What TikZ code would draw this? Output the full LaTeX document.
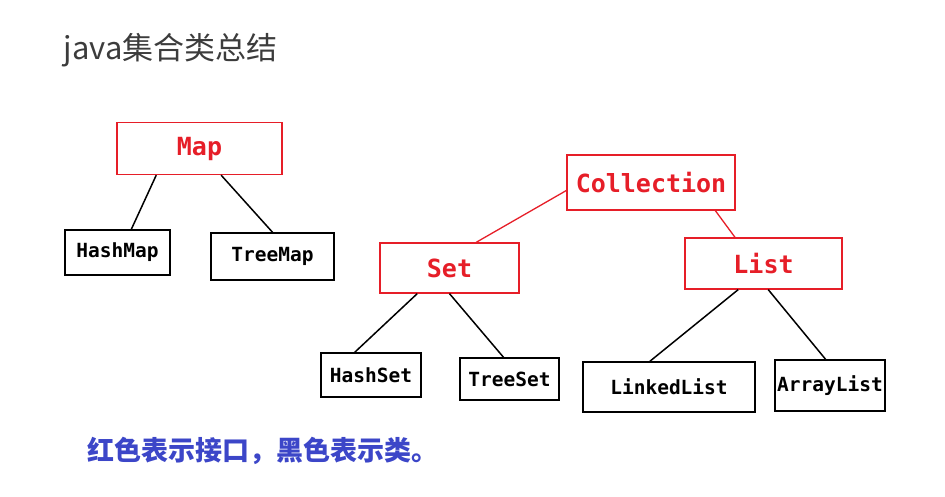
\documentclass[tikz,border=0pt]{standalone}
\usepackage{fontspec}
\setmonofont{DejaVu Sans Mono}
\newfontfamily\cjk{Noto Sans CJK SC}
\usetikzlibrary{calc}
\definecolor{cred}{RGB}{230,30,40}
\definecolor{cblue}{RGB}{60,70,200}
\definecolor{cgray}{RGB}{60,60,60}

\tikzset{
  iface/.style={draw=cred,line width=1.3pt,text=cred,font=\ttfamily\bfseries\fontsize{25}{25}\selectfont,
    minimum height=52pt,inner sep=0pt},
  klass/.style={draw=black,line width=1.5pt,font=\ttfamily\bfseries\fontsize{19.5}{19.5}\selectfont,
    minimum height=46pt,inner sep=0pt},
  redline/.style={draw=cred,line width=1.3pt},
  blackline/.style={draw=black,line width=1.5pt}
}

\begin{document}
\begin{tikzpicture}[x=1pt,y=-1pt]
  \useasboundingbox (0,0) rectangle (945,497);

  \node[anchor=west,text=cgray,font=\cjk\fontsize{31}{31}\selectfont] (title) at (60,50) {java集合类总结};

  % interfaces
  \node[iface,minimum width=165pt] (map) at (199.5,148.5) {Map};
  \node[iface,minimum width=168pt,minimum height=55pt] (coll) at (651,182.5) {Collection};
  \node[iface,minimum width=139pt,minimum height=50pt] (set) at (449.5,268) {Set};
  \node[iface,minimum width=157pt,minimum height=51pt] (list) at (763.5,263.5) {List};

  % classes
  \node[klass,minimum width=105pt,minimum height=45pt] (hashmap) at (117.5,252.5) {HashMap};
  \node[klass,minimum width=123pt,minimum height=47pt] (treemap) at (272.5,256.5) {TreeMap};
  \node[klass,minimum width=100pt,minimum height=44pt] (hashset) at (371,375) {HashSet};
  \node[klass,minimum width=99pt,minimum height=42pt] (treeset) at (509.5,379) {TreeSet};
  \node[klass,minimum width=172pt,minimum height=50pt] (linked) at (669,387) {LinkedList};
  \node[klass,minimum width=110pt,minimum height=51pt] (array) at (830,385.5) {ArrayList};

  % connectors
  \draw[blackline] ($(map.south west)!0.24!(map.south east)$) -- ($(hashmap.north west)!0.63!(hashmap.north east)$);
  \draw[blackline] ($(map.south west)!0.63!(map.south east)$) -- ($(treemap.north west)!0.5!(treemap.north east)$);
  \draw[redline] ($(coll.west)+(0,8)$) -- ($(set.north west)!0.69!(set.north east)$);
  \draw[redline] ($(coll.south west)!0.88!(coll.south east)$) -- ($(list.north west)!0.32!(list.north east)$);
  \draw[blackline] ($(set.south west)!0.27!(set.south east)$) -- ($(hashset.north west)!0.34!(hashset.north east)$);
  \draw[blackline] ($(set.south west)!0.5!(set.south east)$) -- ($(treeset.north west)!0.44!(treeset.north east)$);
  \draw[blackline] ($(list.south west)!0.34!(list.south east)$) -- ($(linked.north west)!0.39!(linked.north east)$);
  \draw[blackline] ($(list.south west)!0.53!(list.south east)$) -- ($(array.north west)!0.46!(array.north east)$);

  \node[anchor=west,text=cblue,font=\cjk\bfseries\fontsize{27}{27}\selectfont] (note) at (84,451) {红色表示接口，黑色表示类。};
\end{tikzpicture}
\end{document}
